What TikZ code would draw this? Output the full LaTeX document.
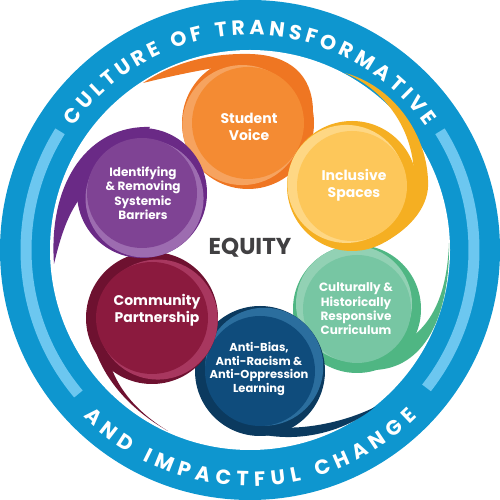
\documentclass[tikz,border=0pt]{standalone}
\usepackage{fontspec}
\setmainfont{Poppins}
\usetikzlibrary{decorations.text}
\definecolor{ring}{HTML}{0E96CF}
\definecolor{stripe}{HTML}{6CC7F0}
\definecolor{orL}{HTML}{F6A35F}\definecolor{orM}{HTML}{F48B33}\definecolor{orD}{HTML}{EF7622}
\definecolor{yeL}{HTML}{FED784}\definecolor{yeM}{HTML}{FDC75A}\definecolor{yeD}{HTML}{F5AF22}
\definecolor{grL}{HTML}{92D1B4}\definecolor{grM}{HTML}{77C6A3}\definecolor{grD}{HTML}{4FB683}
\definecolor{nvL}{HTML}{2B6E9E}\definecolor{nvM}{HTML}{0F4C7C}\definecolor{nvD}{HTML}{0B3A5F}
\definecolor{crL}{HTML}{A8375F}\definecolor{crM}{HTML}{8B1A3E}\definecolor{crD}{HTML}{6E1130}
\definecolor{puL}{HTML}{9D6CB0}\definecolor{puM}{HTML}{7F4394}\definecolor{puD}{HTML}{6A2A86}
\definecolor{eqgray}{HTML}{414042}
\newcommand\mybubble[5]{%
  \fill[#5D] (#1,#2) circle (#3);
  \fill[#5L] (#1,#2) ++({#4+180}:6) circle ({#3-6});
  \fill[#5M] (#1,#2) circle ({#3-10});
}
\begin{document}
\begin{tikzpicture}[x=1pt,y=1pt,
  lbl/.style={font=\bfseries\fontsize{14}{17}\selectfont, text=white, align=center, inner sep=0pt},
  lbls/.style={font=\bfseries\fontsize{12}{14.5}\selectfont, text=white, align=center, inner sep=0pt},
  ringtext/.style={decorate, decoration={text along path, text align={fit to path}, text color=white,
     text={|\bfseries\fontsize{20.5}{20.5}\selectfont|#1}}}]
\useasboundingbox (0,0) rectangle (500,500);
% ring
\fill[ring] (250,250) circle (250);
\fill[white] (250,250) circle (200);
\draw[stripe, line width=11] (250,250) ++(148:224) arc[start angle=148, end angle=220, radius=224];
\draw[stripe, line width=11] (250,250) ++(-38:224) arc[start angle=-38, end angle=32, radius=224];
\path[ringtext={CULTURE OF TRANSFORMATIVE}] (250,250) ++(145:215) arc[start angle=145, end angle=35, radius=215];
\path[ringtext={AND IMPACTFUL CHANGE}] (250,250) ++(225:236) arc[start angle=225, end angle=315, radius=236];
% orange
\fill[orD] (313,390) .. controls (312,425) and (290,445) .. (250,446)
  .. controls (205,447) and (170,435) .. (143,417)
  .. controls (175,425) and (210,432) .. (240,436) -- (250,400) -- cycle;
\mybubble{248}{377}{66}{20}{or}
% green
\fill[grD] (372,130) .. controls (425,130) and (450,185) .. (449,257)
  .. controls (447,200) and (428,162) .. (385,150) -- (370,170) -- cycle;
\mybubble{357}{191}{64}{-60}{gr}
% navy
\fill[nvD] (225,80) .. controls (270,52) and (335,60) .. (375,93)
  .. controls (345,78) and (305,70) .. (275,73) -- (260,100) -- cycle;
\mybubble{260}{129}{65}{-135}{nv}
% crimson
\fill[crD] (92,210) .. controls (80,160) and (105,105) .. (168,69)
  .. controls (125,95) and (105,130) .. (106,165) -- (125,185) -- cycle;
\mybubble{152}{182}{66}{165}{cr}
% purple
\fill[puD] (150,373) .. controls (90,375) and (48,320) .. (54,236)
  .. controls (62,270) and (70,290) .. (84,307) -- (110,320) -- cycle;
\mybubble{142}{307}{65}{115}{pu}
% yellow
\fill[yeD] (385,258) .. controls (412,273) and (430,295) .. (428,320)
  .. controls (426,370) and (390,415) .. (345,427)
  .. controls (385,410) and (415,370) .. (414,320) -- (390,300) -- cycle;
\mybubble{352}{314}{65}{-20}{ye}
% labels
\node[font=\bfseries\fontsize{23}{23}\selectfont, text=eqgray, inner sep=0pt] (eq) at (250,252) {EQUITY};
\node[lbl] (sv) at (249,373) {Student\\Voice};
\node[lbl] (is) at (354,315) {Inclusive\\Spaces};
\node[lbls] (irs) at (143,307) {Identifying\\\& Removing\\Systemic\\Barriers};
\node[lbl] (cp) at (157,190) {Community\\Partnership};
\node[font=\bfseries\fontsize{11.5}{13.4}\selectfont, text=white, align=center, inner sep=0pt] (ab) at (259,131) {Anti-Bias,\\Anti-Racism \&\\Anti-Oppression\\Learning};
\node[font=\bfseries\fontsize{12}{14.3}\selectfont, text=white, align=center, inner sep=0pt] (chr) at (356,191) {Culturally \&\\Historically\\Responsive\\Curriculum};
\end{tikzpicture}
\end{document}
